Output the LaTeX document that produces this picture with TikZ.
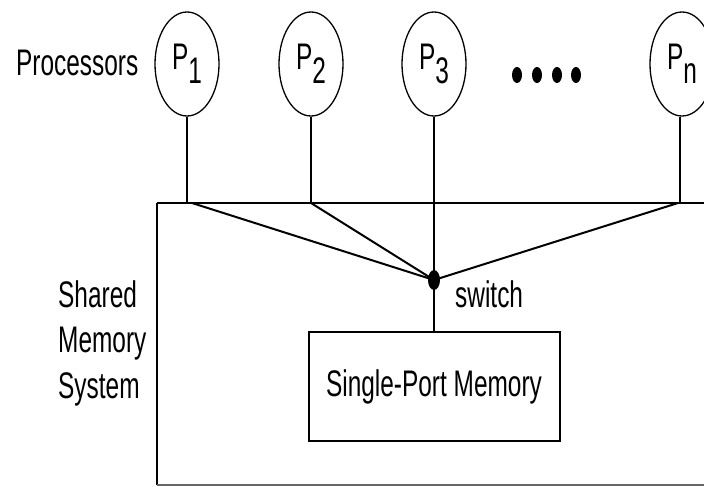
\documentclass[tikz,border=0pt]{standalone}
\usepackage{fontspec}
\setmainfont{Liberation Sans}[FakeStretch=0.66]
\usetikzlibrary{shapes.geometric}
\begin{document}
\begin{tikzpicture}[x=1pt,y=-1pt,
  txt/.style={font=\fontsize{37}{45}\selectfont, inner sep=0pt},
  proc/.style={ellipse, draw, line width=1.3pt, minimum width=64pt, minimum height=104pt, inner sep=0pt, font=\fontsize{37}{45}\selectfont},
  thin/.style={line width=1.3pt},
  thick/.style={line width=2pt},
  dotm/.style={ellipse, fill=black, minimum width=10pt, minimum height=16pt, inner sep=0pt}]
\useasboundingbox (0,0) rectangle (704,487);
% processors
\node[txt, anchor=west] (lproc) at (16,63) {Processors};
\node[proc] (p1) at (187,64) {P\raisebox{-14pt}{1}};
\node[proc] (p2) at (311,64) {P\raisebox{-14pt}{2}};
\node[proc] (p3) at (434,64) {P\raisebox{-14pt}{3}};
\node[proc] (pn) at (682,64) {P\raisebox{-14pt}{n}};
\node[dotm] (d1) at (517,75) {};
\node[dotm] (d2) at (537,75) {};
\node[dotm] (d3) at (557,75) {};
\node[dotm] (d4) at (576,75) {};
% shared memory system frame
\draw[thick] (704,203) -- (157,203);
\draw[thin] (157,203) -- (157,485);
\draw[thin, black!60] (157,485) -- (704,485);
% junctions
\coordinate (j1) at (187,203);
\coordinate (j2) at (311,203);
\coordinate (jn) at (680,203);
% switch
\node[ellipse, fill=black, minimum width=12pt, minimum height=20pt, inner sep=0pt] (sw) at (434,280) {};
\node[txt, anchor=west] (lsw) at (455,294) {switch};
% memory
\node[draw, thick, minimum width=251pt, minimum height=109pt, txt] (mem) at (434,386.5) {Single-Port Memory};
% left label
\node[txt, anchor=north west, align=left, font=\fontsize{37}{45.5}\selectfont] (lsms) at (58,280) {Shared\\Memory\\System};
% connectors
\draw[thin] (p1.south) -- (j1);
\draw[thin] (p2.south) -- (j2);
\draw[thin] (pn.south -| jn) -- (jn);
\draw[thin] (p3.south) -- (sw.center);
\draw[thin] (sw.center) -- (mem.north);
\draw[thick] ([xshift=5pt]j1) -- (sw.center);
\draw[thick] (j2) -- (sw.center);
\draw[thick] ([xshift=-2pt]jn) -- (sw.center);
\end{tikzpicture}
\end{document}
